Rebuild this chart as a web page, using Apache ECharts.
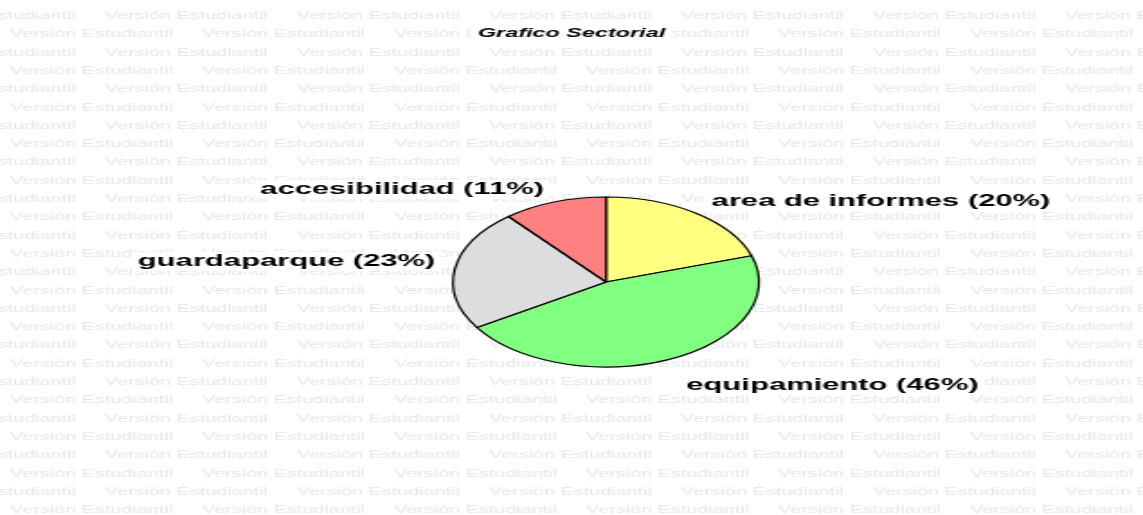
<!DOCTYPE html>
<html>
<head>
<meta charset="utf-8">
<script src="https://cdn.jsdelivr.net/npm/echarts@6/dist/echarts.min.js"></script>
<style>
  html, body { margin: 0; padding: 0; background: #fff; overflow: hidden; }
  /* the chart is laid out narrow and stretched sideways, like the original sheet */
  #chart { width: 635px; height: 515px; transform: scaleX(1.8); transform-origin: 0 0; }
</style>
</head>
<body>
<div id="chart"></div>
<script>
// Chart data
const titleText = 'Grafico Sectorial';
const categories = ['area de informes', 'equipamiento', 'guardaparque', 'accesibilidad'];
const values = [20, 46, 23, 11];
const sliceColors = ['#FFFF80', '#80FF80', '#DDDDDD', '#FF8080'];
const watermarkText = 'Versión Estudiantil';

// Small label nudges so each label sits against its slice like a spreadsheet chart
const labelNudge = [[-4, -6], [-3, 19], [5, -6], [5, -5]];

const FONT = 'Arial, "Liberation Sans", sans-serif';
const W = 635, H = 515;

// Repeated watermark rows drawn behind the chart
const marks = [];
const rowStep = 18.3, colStep = 106.67;
for (let k = 0; k < 29; k++) {
  const y = 16 + k * rowStep;
  let x = (k % 2 === 0 ? 58.3 : 5.6) - colStep;
  for (; x < W; x += colStep) {
    marks.push({
      type: 'text', z: -10, silent: true,
      style: { text: watermarkText, x: x, y: y, verticalAlign: 'middle',
               font: '11px ' + FONT, fill: '#e6e6e6' }
    });
  }
}

const chart = echarts.init(document.getElementById('chart'));
chart.setOption({
  backgroundColor: '#ffffff',
  animation: false,
  graphic: marks,
  title: {
    text: titleText,
    left: 'center',
    top: 24,
    padding: [3, 4],
    backgroundColor: '#ffffff',
    textStyle: { fontFamily: FONT, fontSize: 13, fontWeight: 'bold', fontStyle: 'italic', color: '#000' }
  },
  series: [{
    type: 'pie',
    center: [336.7, 282],
    radius: 85,
    startAngle: 90,
    clockwise: true,
    avoidLabelOverlap: false,
    itemStyle: { borderColor: '#000', borderWidth: 1.2 },
    label: {
      show: true,
      position: 'outside',
      formatter: '{b} ({d}%)',
      fontFamily: FONT, fontSize: 17.2, fontWeight: 'bold', color: '#000',
      backgroundColor: '#ffffff',
      padding: [1, 3],
      distanceToLabelLine: 5
    },
    labelLine: { show: false, length: 8, length2: 0 },
    emphasis: { disabled: true },
    data: categories.map((name, i) => ({
      name: name,
      value: values[i],
      itemStyle: { color: sliceColors[i] },
      label: { offset: labelNudge[i] }
    }))
  }]
});
</script>
</body>
</html>
